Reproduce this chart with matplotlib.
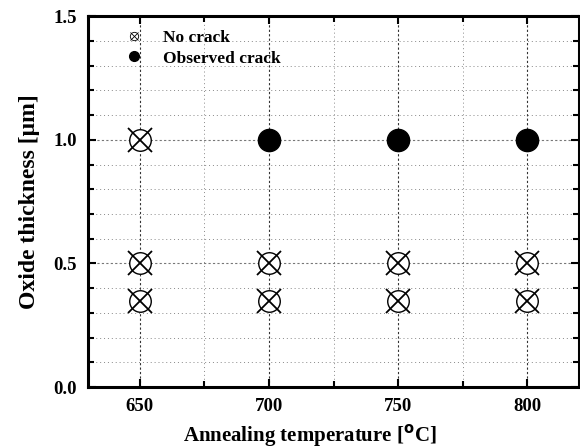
import matplotlib
matplotlib.use('Agg')
import matplotlib.pyplot as plt
import numpy as np
from matplotlib.lines import Line2D

plt.rcParams['font.family'] = 'Liberation Serif'
plt.rcParams['font.weight'] = 'bold'

# no crack samples
nc_temp = [650, 650, 650, 700, 700, 750, 750, 800, 800]
nc_thick = [0.35, 0.5, 1.0, 0.35, 0.5, 0.35, 0.5, 0.35, 0.5]
# cracked samples
cr_temp = [700, 750, 800]
cr_thick = [1.0, 1.0, 1.0]

fig = plt.figure(figsize=(5.8, 4.48), dpi=100)
ax = fig.add_axes([0.152, 0.136, 0.846, 0.828])

ax.set_xlim(630, 820)
ax.set_ylim(0, 1.5)
ax.set_xticks([650, 700, 750, 800])
ax.set_xticks([675, 725, 775], minor=True)
ax.set_yticks([0.0, 0.5, 1.0, 1.5])
ax.set_yticks(np.arange(0.1, 1.5, 0.1), minor=True)
ax.set_yticklabels(['0.0', '0.5', '1.0', '1.5'])

ax.grid(True, which='major', axis='x', linestyle=(0, (2, 2)), color='#333333', linewidth=0.8)
ax.grid(True, which='minor', axis='x', linestyle=(0, (1, 3)), color='#888888', linewidth=0.7)
ax.grid(True, which='major', axis='y', linestyle=(0, (2, 2)), color='#777777', linewidth=0.8)
ax.grid(True, which='minor', axis='y', linestyle=(0, (1, 3)), color='#888888', linewidth=0.7)
ax.set_axisbelow(True)

ax.plot(nc_temp, nc_thick, 'o', ms=15.5, mfc='white', mec='black', mew=1.0, ls='none')
ax.plot(nc_temp, nc_thick, 'x', ms=17, mec='black', mew=1.3, ls='none')
ax.plot(cr_temp, cr_thick, 'o', ms=16, mfc='black', mec='black', ls='none')

for s in ax.spines.values():
    s.set_linewidth(2.2)
ax.tick_params(which='both', direction='in', top=True, right=True, width=1.5)
ax.tick_params(which='major', length=6, labelsize=13.5, pad=8)
ax.tick_params(which='minor', length=4)

ax.set_xlabel('Annealing temperature [$^{\\mathrm{o}}$C]', fontsize=15, fontweight='bold')
ax.xaxis.set_label_coords(0.452, -0.095)
ax.set_ylabel('Oxide thickness [\u03bcm]', fontsize=17, fontweight='bold', labelpad=10)

h1 = (Line2D([], [], marker='o', ms=6, mfc='white', mec='black', mew=0.6, ls='none'),
      Line2D([], [], marker='x', ms=6, mec='black', mew=0.6, ls='none'))
h2 = Line2D([], [], marker='o', ms=7, mfc='black', mec='black', ls='none')
ax.legend([h1, h2], ['No crack', 'Observed crack'], loc='upper left',
          bbox_to_anchor=(0.035, 1.005), frameon=False, fontsize=12.5,
          handletextpad=0.9, labelspacing=0.25, handlelength=1.5)

fig.savefig('out.png', dpi=100)
